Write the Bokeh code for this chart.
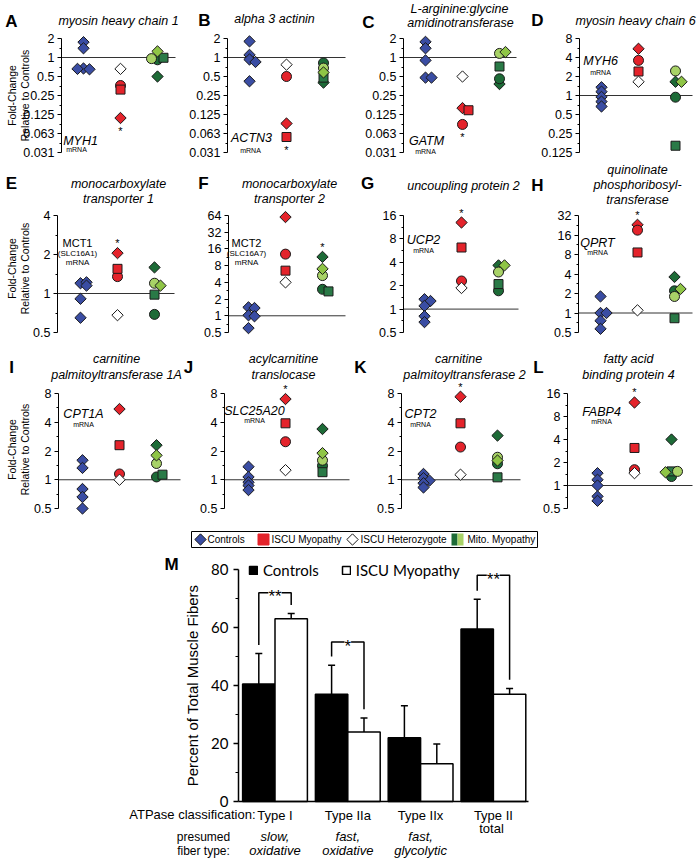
import numpy as np
from bokeh.plotting import figure
from bokeh.layouts import column, row
from bokeh.models import (Range1d, FixedTicker, Label, ColumnDataSource,
                          Whisker, TeeHead, Legend, LegendItem)
from bokeh.embed import file_html
from bokeh.resources import INLINE

# ---------------- data: fold-change panels A-L ----------------
# controls (5) | ISCU myopathy [diamond, circle, square] | ISCU heterozygote |
# mito. myopathy [dark diamond, dark circle, dark square, light circle, light diamond]
A_ctrl = [1.75, 1.4, 0.67, 0.65, 0.66]
A_iscu = [0.11, 0.36, 0.31]
A_het = 0.66
A_mito = [0.5, 0.92, 0.99, 0.96, 1.25]

B_ctrl = [1.8, 1.1, 0.93, 0.85, 0.42]
B_iscu = [0.09, 0.5, 0.055]
B_het = 0.77
B_mito = [0.4, 0.82, 0.48, 0.68, 0.58]

C_ctrl = [1.77, 1.4, 0.9, 0.48, 0.48]
C_iscu = [0.158, 0.087, 0.146]
C_het = 0.5
C_mito = [0.38, 0.46, 0.72, 1.16, 1.22]

D_ctrl = [1.35, 1.15, 0.95, 0.8, 0.67]
D_iscu = [5.5, 3.6, 2.4]
D_het = 1.65
D_mito = [1.65, 0.94, 0.16, 2.45, 1.65]

E_ctrl = [1.2, 1.22, 1.15, 0.91, 0.65]
E_iscu = [2.05, 1.35, 1.55]
E_het = 0.68
E_mito = [1.59, 0.69, 0.98, 1.2, 1.15]

F_ctrl = [1.42, 1.38, 1.02, 0.98, 0.6]
F_iscu = [60, 12.9, 6.5]
F_het = 4.0
F_mito = [11.5, 3.0, 2.75, 5.3, 7.0]

G_ctrl = [1.34, 1.27, 1.1, 0.81, 0.68]
G_iscu = [13, 2.3, 6.2]
G_het = 1.87
G_mito = [3.65, 1.72, 2.1, 3.0, 3.65]

H_ctrl = [1.8, 1.0, 1.0, 0.76, 0.57]
H_iscu = [23, 19, 8.6]
H_het = 1.1
H_mito = [3.6, 2.2, 0.83, 1.8, 2.35]

I_ctrl = [1.6, 1.33, 0.8, 0.66, 0.5]
I_iscu = [5.5, 1.15, 2.3]
I_het = 1.0
I_mito = [2.3, 1.07, 1.13, 1.48, 1.8]

J_ctrl = [1.37, 1.07, 0.94, 0.87, 0.78]
J_iscu = [7.0, 2.5, 3.9]
J_het = 1.26
J_mito = [3.4, 1.4, 1.2, 1.6, 1.9]

K_ctrl = [1.15, 1.04, 0.98, 0.92, 0.83]
K_iscu = [7.4, 2.2, 3.9]
K_het = 1.13
K_mito = [2.9, 1.47, 1.06, 1.72, 1.59]

L_ctrl = [1.45, 1.19, 1.0, 0.72, 0.63]
L_iscu = [12.2, 1.61, 3.1]
L_het = 1.45
L_mito = [4.0, 1.31, 1.53, 1.53, 1.49]

DATA = {
    "A": (A_ctrl, A_iscu, A_het, A_mito), "B": (B_ctrl, B_iscu, B_het, B_mito),
    "C": (C_ctrl, C_iscu, C_het, C_mito), "D": (D_ctrl, D_iscu, D_het, D_mito),
    "E": (E_ctrl, E_iscu, E_het, E_mito), "F": (F_ctrl, F_iscu, F_het, F_mito),
    "G": (G_ctrl, G_iscu, G_het, G_mito), "H": (H_ctrl, H_iscu, H_het, H_mito),
    "I": (I_ctrl, I_iscu, I_het, I_mito), "J": (J_ctrl, J_iscu, J_het, J_mito),
    "K": (K_ctrl, K_iscu, K_het, K_mito), "L": (L_ctrl, L_iscu, L_het, L_mito),
}
# y-axis extent as powers of two (low, high)
YEXP = {"A": (-5, 1), "B": (-5, 1), "C": (-5, 1), "D": (-3, 3),
        "E": (-1, 2), "F": (-1, 6), "G": (-1, 4), "H": (-1, 5),
        "I": (-1, 3), "J": (-1, 3), "K": (-1, 3), "L": (-1, 4)}
TICK_LABELS = {6: "64", 5: "32", 4: "16", 3: "8", 2: "4", 1: "2", 0: "1", -1: "0.5",
               -2: "0.25", -3: "0.125", -4: "0.063", -5: "0.031"}
# significance star: (group, side)
STAR = {"A": (2, "below"), "B": (2, "below"), "C": (2, "below"), "E": (2, "above"),
        "F": (3, "above"), "G": (2, "above"), "H": (2, "above"), "J": (2, "above"),
        "K": (2, "above"), "L": (2, "above")}

LEGEND_LABELS = ["Controls", "ISCU Myopathy", "ISCU Heterozygote", "Mito. Myopathy"]

# ---------------- data: fiber typing panel M ----------------
M_CATS = ["Type I", "Type IIa", "Type IIx", "Type II"]
M_FIBER1 = ["slow,", "fast,", "fast,"]
M_FIBER2 = ["oxidative", "oxidative", "glycolytic"]
M_ctrl = [40.5, 37.0, 22.0, 59.5]
M_ctrl_sd = [10.5, 10.0, 11.0, 10.2]
M_iscu = [63.0, 24.0, 13.0, 37.0]
M_iscu_sd = [1.8, 4.8, 6.8, 2.0]
M_SIG_GROUP = [1, 2, 4]
M_SIG_TEXT = ["**", "*", "**"]
M_SIG_TOP = [72, 55, 78]
M_YTICKS = [0, 20, 40, 60, 80]
M_YMINOR = [10, 30, 50, 70]

# ---------------- styles / layout ----------------
FONT = "Liberation Sans"
CTRL_C = "#3a4da3"
RED_C = "#e4232b"
DG_C = "#1d6b37"
DGS_C = "#2a7a47"
LG_C = "#a8d267"
LGD_C = "#8fc546"
EDGE = "#1a1a1a"
Q = np.pi / 4
STYLE = {
    "ctrl": ("square", 8, CTRL_C, Q), "rd": ("square", 8, RED_C, Q),
    "rc": ("circle", 10, RED_C, 0.0), "rs": ("square", 9, RED_C, 0.0),
    "het": ("square", 8, "white", Q), "gdd": ("square", 8, DG_C, Q),
    "gdc": ("circle", 10, DG_C, 0.0), "gds": ("square", 9, DGS_C, 0.0),
    "glc": ("circle", 10, LG_C, 0.0), "gld": ("square", 8, LGD_C, Q),
}
W = 698
# rows: (canvas top, canvas bottom, frame top, frame bottom) in page px
ROWS = {1: (0, 162, 38, 152), 2: (162, 340, 215, 332), 3: (340, 522, 393, 508)}
# panel: (row, canvas left, canvas right, axis x, data right, first-group offset)
GEO = {
    "A": (1, 0, 185, 61, 175, 22), "B": (1, 185, 352, 227, 345, 22),
    "C": (1, 352, 524, 403, 516, 22), "D": (1, 524, W, 579, 692, 22),
    "E": (2, 0, 185, 57, 174, 23), "F": (2, 185, 352, 228, 345, 20),
    "G": (2, 352, 526, 403, 518, 21), "H": (2, 526, W, 578, 692, 22),
    "I": (3, 0, 182, 58, 180, 24), "J": (3, 182, 352, 224, 349, 24),
    "K": (3, 352, 528, 401, 520, 22), "L": (3, 528, W, 567, 692, 30),
}
SP = 37.0  # px between groups
TEXTS = {
    "A": [("L", 11, 21, "A"), ("T", 118, 20, "myosin heavy chain 1"), ("G", 80, 140, "MYH1"), ("m", 76, 149, "mRNA")],
    "B": [("L", 204, 20, "B"), ("T", 274, 18, "alpha 3 actinin"), ("G", 251, 137, "ACTN3"), ("m", 250, 150, "mRNA")],
    "C": [("L", 368, 22, "C"), ("T", 459, 8, "L-arginine:glycine"), ("T", 460, 22, "amidinotransferase"),
          ("G", 426, 140, "GATM"), ("m", 425, 151, "mRNA")],
    "D": [("L", 537, 20, "D"), ("T", 635, 20, "myosin heavy chain 6"), ("G", 600, 60, "MYH6"), ("m", 600, 72, "mRNA")],
    "E": [("L", 11, 183, "E"), ("T", 118, 183, "monocarboxylate"), ("T", 118, 198, "transporter 1"),
          ("g", 77, 242, "MCT1"), ("s", 77, 253, "(SLC16A1)"), ("s", 77, 262, "mRNA")],
    "F": [("L", 203, 183, "F"), ("T", 289, 183, "monocarboxylate"), ("T", 289, 198, "transporter 2"),
          ("g", 246, 242, "MCT2"), ("s", 246, 253, "(SLC16A7)"), ("s", 246, 262, "mRNA")],
    "G": [("L", 367, 183, "G"), ("T", 463, 185, "uncoupling protein 2"), ("G", 423, 239, "UCP2"), ("m", 423, 250, "mRNA")],
    "H": [("L", 537, 185, "H"), ("T", 637, 169, "quinolinate"), ("T", 637, 184, "phosphoribosyl-"),
          ("T", 637, 199, "transferase"), ("G", 597, 242, "QPRT"), ("m", 597, 252, "mRNA")],
    "I": [("L", 11, 367, "I"), ("T", 116, 358, "carnitine"), ("T", 116, 374, "palmitoyltransferase 1A"),
          ("G", 83, 413, "CPT1A"), ("m", 83, 424, "mRNA")],
    "J": [("L", 188, 367, "J"), ("T", 283, 358, "acylcarnitine"), ("T", 283, 374, "translocase"),
          ("G", 254, 410, "SLC25A20"), ("m", 254, 420, "mRNA")],
    "K": [("L", 360, 367, "K"), ("T", 458, 358, "carnitine"), ("T", 464, 374, "palmitoyltransferase 2"),
          ("G", 420, 413, "CPT2"), ("m", 420, 424, "mRNA")],
    "L": [("L", 538, 367, "L"), ("T", 628, 358, "fatty acid"), ("T", 628, 374, "binding protein 4"),
          ("G", 601, 411, "FABP4"), ("m", 601, 421, "mRNA")],
}
TEXT_STYLE = {"L": ("17px", "bold"), "T": ("12.5px", "italic"), "G": ("12.5px", "italic"),
              "m": ("7px", "normal"), "g": ("11px", "normal"), "s": ("8px", "normal")}


def add_text(p, cl, cb, x, y, text, size="12.5px", style="normal", align="center",
             angle=0.0, font=FONT, bg=None):
    """Place a label at page position (x, y); cl/cb = canvas left / canvas bottom."""
    p.add_layout(Label(x=x - cl, y=cb - y, x_units="screen", y_units="screen", text=text,
                       text_font=font, text_font_size=size, text_font_style=style,
                       text_align=align, text_baseline="middle", angle=angle,
                       text_color="black", background_fill_color=bg))


def dodge(vals, ppd, dy_thr=3.2, step=6):
    placed, out = [], []
    for v in vals:
        y = np.log2(v) * ppd
        for c in (0, step, -step, 2 * step, -2 * step, 3 * step):
            if all(abs(y - py) >= dy_thr or abs(c - pc) >= step for py, pc in placed):
                break
        placed.append((y, c))
        out.append(c)
    return out


def style_axis(ax, size="12.5px", font=FONT):
    ax.major_label_text_font = font
    ax.major_label_text_font_size = size
    ax.major_label_text_color = "black"
    ax.axis_line_color = "black"
    ax.major_tick_line_color = "black"
    ax.minor_tick_line_color = "black"
    ax.major_tick_in = 0
    ax.minor_tick_in = 0


def fold_panel(pid):
    rowi, cl, cr, fl, fr, off = GEO[pid]
    rtop, rbot, ftop, fbot = ROWS[rowi]
    e0, e1 = YEXP[pid]
    ppd = (fbot - ftop) / (e1 - e0)

    def xd(px):
        return 1 + (px - (fl + off)) / SP

    y_lo = 2.0 ** (e0 - (rbot - fbot) / ppd)
    y_hi = 2.0 ** (e1 + (ftop - rtop) / ppd)
    p = figure(width=cr - cl, height=rbot - rtop, y_axis_type="log",
               x_range=Range1d(xd(cl), xd(cr)), y_range=Range1d(y_lo, y_hi),
               x_axis_location=None, toolbar_location=None, output_backend="svg",
               title=None, min_border=0)
    p.outline_line_color = None
    p.grid.visible = False
    ax = p.yaxis[0]
    exps = list(range(e0, e1 + 1))
    ax.fixed_location = xd(fl)
    ax.bounds = (2.0 ** e0, 2.0 ** e1)
    ax.ticker = FixedTicker(ticks=[2.0 ** e for e in exps],
                            minor_ticks=[2.0 ** (e + 0.5) for e in exps[:-1]])
    ax.major_label_overrides = {2.0 ** e: TICK_LABELS[e] for e in exps}
    style_axis(ax)
    ax.major_label_standoff = 3
    ax.major_tick_out = 4
    ax.minor_tick_out = 2

    p.segment(x0=[xd(fl)], x1=[xd(fr)], y0=[1], y1=[1], line_color="#333333", line_width=1)

    ctrl, iscu, het, mito = DATA[pid]
    groups = [list(zip(ctrl, ["ctrl"] * len(ctrl))),
              list(zip(iscu, ["rd", "rc", "rs"])) + [(het, "het")],
              list(zip(mito, ["gdd", "gdc", "gds", "glc", "gld"]))]
    cols = dict(x=[], y=[], marker=[], size=[], angle=[], fill=[])
    pos = {}
    for gi, grp in enumerate(groups, start=1):
        offs = dodge([v for v, _ in grp], ppd)
        pos[gi] = []
        for (v, k), o in zip(grp, offs):
            m, s, c, a = STYLE[k]
            cols["x"].append(gi + o / SP)
            cols["y"].append(v)
            cols["marker"].append(m)
            cols["size"].append(s)
            cols["angle"].append(a)
            cols["fill"].append(c)
            pos[gi].append((gi + o / SP, v))
    p.scatter(x="x", y="y", marker="marker", size="size", angle="angle",
              fill_color="fill", line_color=EDGE, line_width=1, source=ColumnDataSource(cols))

    if pid in STAR:
        g, side = STAR[pid]
        pts = pos[g]
        if side == "above":
            sx, sy = max(pts, key=lambda t: t[1])
            yo = 10
        else:
            sx, sy = min(pts, key=lambda t: t[1])
            yo = -13
        p.add_layout(Label(x=sx, y=sy, y_offset=yo, text="*", text_font=FONT,
                           text_font_size="11px", text_align="center",
                           text_baseline="middle", text_color="black"))

    for kind, x, y, txt in TEXTS[pid]:
        size, style = TEXT_STYLE[kind]
        add_text(p, cl, rbot, x, y, txt, size=size, style=style)

    if pid in ("A", "E", "I"):
        yc = {"A": 95, "E": 268, "I": 449}[pid]
        add_text(p, cl, rbot, 11, yc, "Fold-Change", size="10.5px", angle=np.pi / 2)
        add_text(p, cl, rbot, 24, yc, "Relative to Controls", size="10.5px", angle=np.pi / 2)
    return p


panels = {pid: fold_panel(pid) for pid in "ABCDEFGHIJKL"}

# ---------------- panel M (with the shared legend strip on top) ----------------
MTOP, MBOT = 522, 858
MAXL, MAXR, Y80, Y0 = 238, 528, 569, 801
GX1, GSP = 274.5, 72.8
YPX = (Y0 - Y80) / 80.0


def mx(px):
    return 1 + (px - GX1) / GSP


def my(py):
    return (Y0 - py) / YPX


pm = figure(width=W, height=MBOT - MTOP, x_range=Range1d(mx(0), mx(W)),
            y_range=Range1d(my(MBOT), my(MTOP)), toolbar_location=None,
            output_backend="svg", title=None, min_border=0)
pm.outline_line_color = None
pm.grid.visible = False

xa = pm.xaxis[0]
xa.fixed_location = 0
xa.bounds = (mx(MAXL), mx(MAXR))
xa.ticker = FixedTicker(ticks=[1, 2, 3, 4])
xa.major_label_overrides = {i + 1: c for i, c in enumerate(M_CATS)}
style_axis(xa, size="13px")
xa.major_tick_line_color = None
xa.minor_tick_line_color = None
xa.major_tick_out = 0
xa.minor_tick_out = 0
xa.major_label_standoff = 6
xa.axis_line_width = 1.5

ya = pm.yaxis[0]
ya.fixed_location = mx(MAXL)
ya.bounds = (0, 80)
ya.ticker = FixedTicker(ticks=M_YTICKS, minor_ticks=M_YMINOR)
style_axis(ya, size="15px", font="Lato")
ya.major_label_standoff = 5
ya.major_tick_out = 5
ya.minor_tick_out = 3
ya.axis_line_width = 1.5
ya.major_tick_line_width = 1.5

xc = np.arange(1, len(M_CATS) + 1)
bw = 0.445
up_c = np.add(M_ctrl, M_ctrl_sd)
up_i = np.add(M_iscu, M_iscu_sd)
src_c = ColumnDataSource(dict(x=xc - bw / 2, top=M_ctrl, upper=up_c))
src_i = ColumnDataSource(dict(x=xc + bw / 2, top=M_iscu, upper=up_i))
r_c = pm.vbar(x="x", top="top", width=bw, bottom=0, fill_color="black", line_color="black",
              line_width=1.5, source=src_c)
r_i = pm.vbar(x="x", top="top", width=bw, bottom=0, fill_color="white", line_color="black",
              line_width=1.5, source=src_i)
for s in (src_c, src_i):
    pm.add_layout(Whisker(source=s, base="x", lower="top", upper="upper", dimension="height",
                          line_color="black", line_width=1.5,
                          upper_head=TeeHead(size=7, line_color="black", line_width=1.5),
                          lower_head=None))

for g, txt, top in zip(M_SIG_GROUP, M_SIG_TEXT, M_SIG_TOP):
    xl, xr = g - bw / 2, g + bw / 2
    pm.line(x=[xl, xl, xr, xr], y=[up_c[g - 1] + 3, top, top, up_i[g - 1] + 3],
            line_color="black", line_width=1.5)
    pm.add_layout(Label(x=g, y=top, y_offset=-4, text=txt, text_font=FONT,
                        text_font_size="17px", text_align="center", text_baseline="middle",
                        background_fill_color="white", text_color="black"))

leg = Legend(items=[LegendItem(label="Controls", renderers=[r_c]),
                    LegendItem(label="ISCU Myopathy", renderers=[r_i])],
             orientation="horizontal", location=(248, MBOT - 579),
             background_fill_alpha=0, border_line_color=None, glyph_width=10, glyph_height=10,
             label_text_font="Lato", label_text_font_size="15px", label_text_color="black",
             spacing=22, padding=0, margin=0, label_standoff=5, label_height=10)
pm.add_layout(leg)

# legend strip for panels A-L
pm.quad(left=mx(191), right=mx(537), top=my(531), bottom=my(547), fill_color=None,
        line_color="black", line_width=1)
pm.scatter(x=[mx(200), mx(352)], y=[my(539)] * 2, marker="square", angle=Q, size=8,
           fill_color=[CTRL_C, "white"], line_color=EDGE, line_width=1)
pm.scatter(x=[mx(263)], y=[my(539)], marker="square", size=11, fill_color=RED_C,
           line_color=RED_C)
pm.quad(left=[mx(451), mx(457)], right=[mx(457), mx(463)], top=[my(533)] * 2,
        bottom=[my(545)] * 2, fill_color=[DG_C, LG_C], line_color=None)
for lx, lab in zip([207, 271, 360, 467], LEGEND_LABELS):
    add_text(pm, 0, MBOT, lx, 539, lab, size="10px", align="left")

add_text(pm, 0, MBOT, 171, 564, "M", size="17px", style="bold")
add_text(pm, 0, MBOT, 192, 685, "Percent of Total Muscle Fibers", size="15px", angle=np.pi / 2)
add_text(pm, 0, MBOT, 255, 814, "ATPase classification:", size="13px", align="right")
add_text(pm, 0, MBOT, 491, 828, "total", size="13px")
add_text(pm, 0, MBOT, 203, 836, "presumed", size="12px")
add_text(pm, 0, MBOT, 203, 850, "fiber type:", size="12px")
for i, (a, b) in enumerate(zip(M_FIBER1, M_FIBER2)):
    xm = GX1 + (xc[i] - 1) * GSP
    add_text(pm, 0, MBOT, xm, 836, a, size="13px", style="italic")
    add_text(pm, 0, MBOT, xm, 850, b, size="13px", style="italic")

layout = column(
    row(panels["A"], panels["B"], panels["C"], panels["D"]),
    row(panels["E"], panels["F"], panels["G"], panels["H"]),
    row(panels["I"], panels["J"], panels["K"], panels["L"]),
    pm,
)

open("out.html", "w").write(file_html(layout, INLINE))
